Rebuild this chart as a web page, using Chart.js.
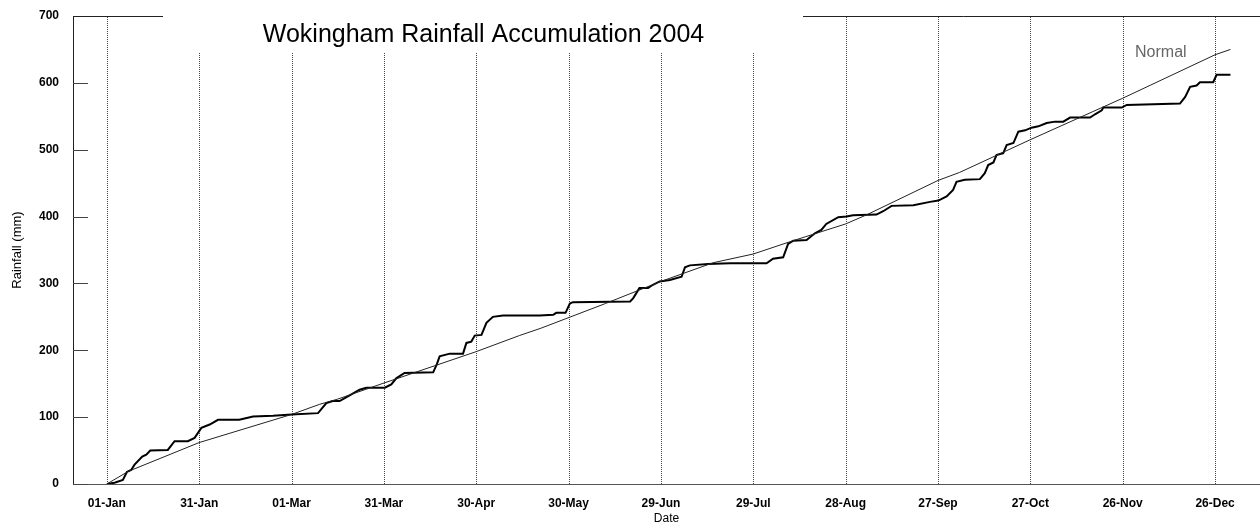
<!DOCTYPE html>
<html>
<head>
<meta charset="utf-8">
<script src="https://cdn.jsdelivr.net/npm/chart.js@4.4.1/dist/chart.umd.min.js"></script>
<style>
  html, body { margin: 0; padding: 0; background: #fff; }
  #c { display: block; }
</style>
</head>
<body>
<canvas id="c" width="1260" height="527"></canvas>
<script>
// ---- data (day of year 2004, 0 = 01-Jan) ----
const tickDays   = [0, 30, 60, 90, 120, 150, 180, 210, 240, 270, 300, 330, 360];
const tickLabels = ['01-Jan','31-Jan','01-Mar','31-Mar','30-Apr','30-May','29-Jun','29-Jul','28-Aug','27-Sep','27-Oct','26-Nov','26-Dec'];
const yTicks     = [0, 100, 200, 300, 400, 500, 600, 700];

const rainDays = [0,2.5,5.2,6.5,7.9,9,11.5,12.8,14.1,19.8,22,26.3,28.5,30.7,33.4,36.1,43,47.5,54,60,68.6,71.3,73.4,75.6,78.3,82.1,84.3,90.3,92.4,94,96.7,106,107.1,108.1,111.4,115.7,116.8,118.4,119.5,121.7,123.3,125.4,128.7,140.6,145,146,149,150.4,151.4,170,171,173,175.8,177.4,179.6,182.9,186.7,187.8,189.4,195.3,202.4,214.3,216.4,219.7,221.3,223,227.3,230,232.1,233.7,237.6,240.3,242.4,250,252.2,254.9,262,267.4,270.1,272.8,274.9,276,278.7,283.6,285.2,286.3,288,289,291.2,292.3,294.5,296.1,298.3,300.4,302.6,305.3,308,310.7,312.9,319.4,321,323.2,323.7,329.7,331.3,348.6,350.3,351.9,354,355.1,359.4,360.5,365];
const rainValues = [0,2,6,18,21,29,41,44,50,51,64,64,69,84,89,96,96,101,102,104,106,121,124,124,131,141,144,144,149,158,166,167,178,191,195,195,211,213,222,223,241,250,252,252,253,256,256,270,272,273,278,293,293,298,303,305,310,324,327,329,330,330,337,339,359,364,365,375,380,389,399,400,402,403,408,416,417,422,424,430,440,452,455,456,465,477,481,492,495,507,510,527,529,533,535,540,542,542,548,548,553,559,563,563,567,569,579,594,596,601,601,612,612];

const normalDays   = [0,7,30,60,69,75,90,120,134,141,162,180,197,210,223,240,247,270,277,300,330,360,365];
const normalValues = [0,19,62,104,119,127,151,198,222,233,270,303,331,344,364,389,403,454,466,515,577,642,650];

const titleText = 'Wokingham Rainfall Accumulation 2004';
const FONT = '"Liberation Sans", Arial, sans-serif';

const rainPts   = rainDays.map((d, i) => ({ x: d, y: rainValues[i] }));
const normalPts = normalDays.map((d, i) => ({ x: d, y: normalValues[i] }));

const decorPlugin = {
  id: 'decor',
  beforeDatasetsDraw(chart) {
    const { ctx, chartArea: a, scales: { x, y } } = chart;
    ctx.save();
    // dotted vertical grid lines
    ctx.strokeStyle = '#444';
    ctx.lineWidth = 1;
    ctx.setLineDash([1, 1]);
    tickDays.forEach(d => {
      const px = Math.round(x.getPixelForValue(d)) + 0.5;
      ctx.beginPath();
      ctx.moveTo(px, a.top + 1);
      ctx.lineTo(px, a.bottom);
      ctx.stroke();
    });
    ctx.setLineDash([]);
    // inner y tick marks
    ctx.strokeStyle = '#444';
    yTicks.forEach(v => {
      const py = Math.round(y.getPixelForValue(v)) + 0.5;
      ctx.beginPath();
      ctx.moveTo(a.left, py);
      ctx.lineTo(a.left + 15, py);
      ctx.stroke();
    });
    // top border
    ctx.strokeStyle = '#222';
    ctx.beginPath();
    ctx.moveTo(a.left, Math.round(a.top) + 0.5);
    ctx.lineTo(a.right, Math.round(a.top) + 0.5);
    ctx.stroke();
    // title box
    ctx.fillStyle = '#fff';
    ctx.fillRect(163, 0, 640, 52);
    ctx.fillStyle = '#000';
    ctx.font = '25px ' + FONT;
    ctx.textAlign = 'center';
    ctx.textBaseline = 'alphabetic';
    ctx.fillText(titleText, 483.5, 42);
    ctx.restore();
  },
  afterDatasetsDraw(chart) {
    const { ctx, scales: { x, y } } = chart;
    ctx.save();
    ctx.fillStyle = '#666';
    ctx.font = '16px ' + FONT;
    ctx.textAlign = 'left';
    ctx.textBaseline = 'alphabetic';
    ctx.fillText('Normal', x.getPixelForValue(334), y.getPixelForValue(639));
    ctx.restore();
  }
};

new Chart(document.getElementById('c'), {
  type: 'line',
  data: {
    datasets: [
      { label: 'Normal', data: normalPts, borderColor: '#222', borderWidth: 1, pointRadius: 0, tension: 0, fill: false },
      { label: 'Rainfall', data: rainPts, borderColor: '#000', borderWidth: 2, pointRadius: 0, tension: 0, fill: false }
    ]
  },
  options: {
    responsive: false,
    devicePixelRatio: 1,
    animation: false,
    layout: { padding: { top: 16, right: 0, left: 0, bottom: 0 } },
    plugins: { legend: { display: false }, tooltip: { enabled: false }, title: { display: false } },
    scales: {
      x: {
        type: 'linear',
        min: -11,
        max: 374.6,
        afterBuildTicks(s) { s.ticks = tickDays.map(v => ({ value: v })); },
        afterFit(s) { s.height = 43; s.paddingLeft = 0; s.paddingRight = 0; },
        ticks: {
          autoSkip: false,
          maxRotation: 0,
          padding: 12,
          color: '#000',
          font: { family: FONT, size: 12, weight: 'bold' },
          callback(v) { const i = tickDays.indexOf(v); return i >= 0 ? tickLabels[i] : ''; }
        },
        grid: { display: false, drawTicks: false },
        border: { display: true, color: '#555', width: 1 },
        title: { display: true, text: 'Date', color: '#000', font: { family: FONT, size: 12 }, padding: { top: 0, bottom: 1 } }
      },
      y: {
        min: 0,
        max: 700,
        afterBuildTicks(s) { s.ticks = yTicks.map(v => ({ value: v })); },
        afterFit(s) { s.width = 73; s.paddingTop = 0; s.paddingBottom = 0; },
        ticks: {
          padding: 14,
          color: '#000',
          font: { family: FONT, size: 12, weight: 'bold' }
        },
        grid: { display: false, drawTicks: false },
        border: { display: true, color: '#222', width: 1 },
        title: { display: true, text: 'Rainfall (mm)', color: '#000', font: { family: FONT, size: 13 }, padding: { top: 10, bottom: 0 } }
      }
    }
  },
  plugins: [decorPlugin]
});
</script>
</body>
</html>
